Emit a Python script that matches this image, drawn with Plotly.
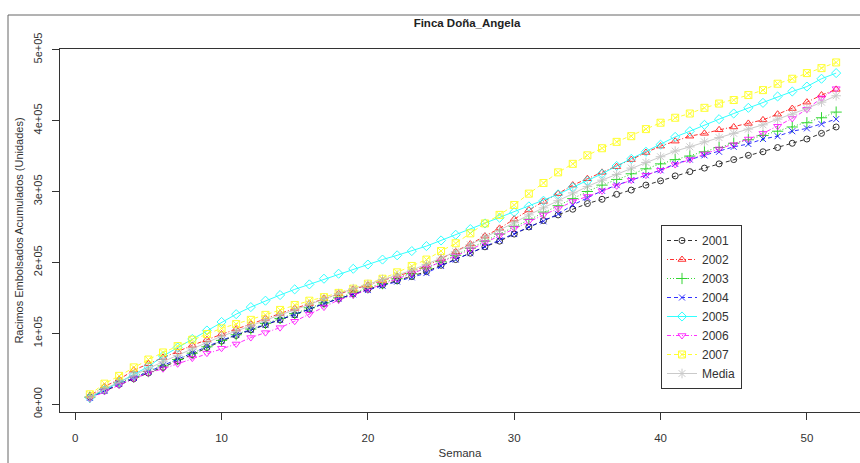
import plotly.graph_objects as go

# Weekly cumulative bagged bunches (values in thousands of units)
weeks = list(range(1, 53))

s2001 = [10, 19, 28, 36, 44, 52, 61, 70, 80, 89,
         97, 105, 112, 119, 126, 134, 142, 149, 156, 162,
         168, 174, 180, 187, 196, 204, 213, 222, 230, 240,
         250, 259, 267, 275, 283, 289, 296, 302, 309, 315,
         322, 328, 333, 339, 345, 351, 356, 362, 368, 374,
         382, 391]
s2002 = [12, 25, 35, 48, 57, 66, 74, 83, 91, 99,
         106, 113, 121, 128, 135, 142, 149, 156, 162, 168,
         174, 180, 187, 195, 205, 215, 226, 237, 248, 261,
         274, 286, 297, 309, 318, 327, 335, 345, 355, 364,
         371, 378, 382, 387, 391, 396, 401, 409, 417, 426,
         436, 444]
s2003 = [10, 21, 30, 38, 46, 54, 63, 72, 81, 90,
         98, 106, 114, 121, 128, 136, 143, 150, 157, 164,
         170, 177, 184, 192, 201, 210, 220, 230, 240, 251,
         261, 271, 280, 290, 300, 309, 317, 325, 332, 339,
         345, 350, 356, 362, 368, 373, 379, 385, 391, 397,
         404, 412]
s2004 = [9, 19, 29, 37, 46, 55, 64, 73, 82, 90,
         98, 105, 112, 119, 126, 134, 142, 149, 155, 161,
         167, 173, 179, 185, 195, 204, 213, 222, 231, 240,
         250, 258, 268, 281, 291, 301, 309, 316, 323, 330,
         339, 345, 351, 356, 363, 367, 374, 378, 385, 389,
         395, 402]
s2005 = [9, 20, 30, 41, 53, 68, 80, 92, 104, 116,
         127, 137, 146, 154, 162, 169, 177, 184, 191, 197,
         204, 210, 216, 223, 231, 239, 247, 255, 263, 271,
         279, 287, 296, 306, 315, 325, 336, 346, 356, 366,
         377, 385, 394, 402, 410, 418, 425, 434, 441, 448,
         459, 467]
s2006 = [8, 18, 27, 36, 44, 50, 57, 65, 72, 79,
         85, 94, 101, 108, 117, 127, 137, 147, 154, 162,
         170, 177, 184, 192, 201, 209, 218, 228, 238, 248,
         258, 267, 276, 286, 293, 301, 308, 316, 323, 330,
         338, 345, 353, 360, 366, 374, 382, 392, 403, 416,
         432, 445]
s2007 = [14, 29, 40, 52, 63, 73, 82, 91, 99, 107,
         113, 119, 126, 133, 140, 146, 151, 157, 163, 170,
         177, 186, 195, 204, 216, 227, 241, 255, 267, 281,
         297, 312, 327, 339, 351, 361, 370, 378, 388, 397,
         404, 410, 418, 424, 429, 436, 443, 452, 459, 467,
         474, 482]
media = [10, 22, 31, 41, 50, 60, 69, 78, 87, 96,
         103, 111, 119, 126, 133, 141, 149, 156, 163, 169,
         176, 182, 189, 197, 206, 215, 225, 236, 245, 256,
         267, 277, 287, 298, 307, 316, 324, 333, 341, 349,
         357, 363, 370, 376, 382, 388, 394, 402, 409, 417,
         426, 435]

series_names = ["2001", "2002", "2003", "2004", "2005", "2006", "2007", "Media"]
series_values = [s2001, s2002, s2003, s2004, s2005, s2006, s2007, media]

x_tickvals = [0, 10, 20, 30, 40, 50]
y_tickvals = [0, 100, 200, 300, 400, 500]
y_ticktext = ["0e+00", "1e+05", "2e+05", "3e+05", "4e+05", "5e+05"]

colors = ["#000000", "#FF0000", "#00CD00", "#0000FF", "#00FFFF", "#FF00FF", "#FFFF00", "#BEBEBE"]
symbols = ["circle-open", "triangle-up-open", "cross-thin", "x-thin",
           "diamond-open", "triangle-down-open", "square-x-open", "asterisk"]
dashes = ["4px,3px", "1px,2px,4px,2px", "1px,2px", "4px,3px",
          "solid", "4px,2px,1px,2px", "4px,3px", "solid"]
sizes = [6, 7, 8, 6, 7, 7, 7, 8]

regular = "Liberation Sans, Arial, sans-serif"

fig = go.Figure()
for name, vals, col, sym, dash, sz in zip(series_names, series_values, colors, symbols, dashes, sizes):
    fig.add_trace(go.Scatter(
        x=weeks, y=vals, mode="lines+markers", name=name, opacity=0.8,
        line=dict(color=col, width=1, dash=dash),
        marker=dict(symbol=sym, size=sz, color=col, line=dict(color=col, width=1)),
    ))

W, H = 860, 463
ml, mr, mt, mb = 60, 0, 49, 51
plot_h = H - mt - mb
plot_w = W - ml - mr

def px_x(p):
    return (p - ml) / plot_w

def px_y(p):
    return (H - mb - p) / plot_h

fig.update_layout(
    width=W, height=H, autosize=False,
    margin=dict(l=ml, r=mr, t=mt, b=mb, pad=0),
    paper_bgcolor="white", plot_bgcolor="white",
    font=dict(family=regular, color="#222", size=11),
    title=dict(text="<b>Finca Doña_Angela</b>", x=(467 - ml) / plot_w, xref="paper",
               xanchor="center", y=1 - 23 / H, yref="container", yanchor="middle",
               font=dict(family=regular, size=11.5, color="#222")),
    showlegend=True,
    legend=dict(x=px_x(661), y=px_y(307), xanchor="left", yanchor="middle",
                bordercolor="#333", borderwidth=1, bgcolor="white",
                font=dict(family=regular, size=12, color="#333"),
                itemwidth=30, tracegroupgap=0),
    xaxis=dict(range=[-1.04, 53.63], tickvals=x_tickvals, ticks="outside", ticklen=7,
               tickcolor="#333", showline=True, linecolor="#333", linewidth=1, mirror=True,
               showgrid=False, zeroline=False,
               tickfont=dict(family=regular, size=11.5, color="#333"),
               ticklabelstandoff=8,
               title=dict(text="Semana", standoff=6, font=dict(family=regular, size=11.5, color="#333"))),
    yaxis=dict(range=[-10.96, 500.96], tickvals=y_tickvals, ticktext=y_ticktext,
               ticks="outside", ticklen=7, tickcolor="#333", tickangle=-90,
               ticklabelstandoff=6,
               showline=True, linecolor="#333", linewidth=1, mirror=False,
               showgrid=False, zeroline=False,
               tickfont=dict(family=regular, size=11, color="#333"),
               title=dict(text="Racimos Embolsados Acumulados (Unidades)", standoff=5,
                          font=dict(family=regular, size=11, color="#333"))),
    shapes=[
        dict(type="line", xref="paper", yref="paper", x0=px_x(8), x1=px_x(8),
             y0=px_y(15), y1=px_y(470), line=dict(color="#666", width=1)),
        dict(type="line", xref="paper", yref="paper", x0=px_x(8), x1=px_x(870),
             y0=px_y(15), y1=px_y(15), line=dict(color="#666", width=1)),
    ],
)

fig.write_html("out.html")
